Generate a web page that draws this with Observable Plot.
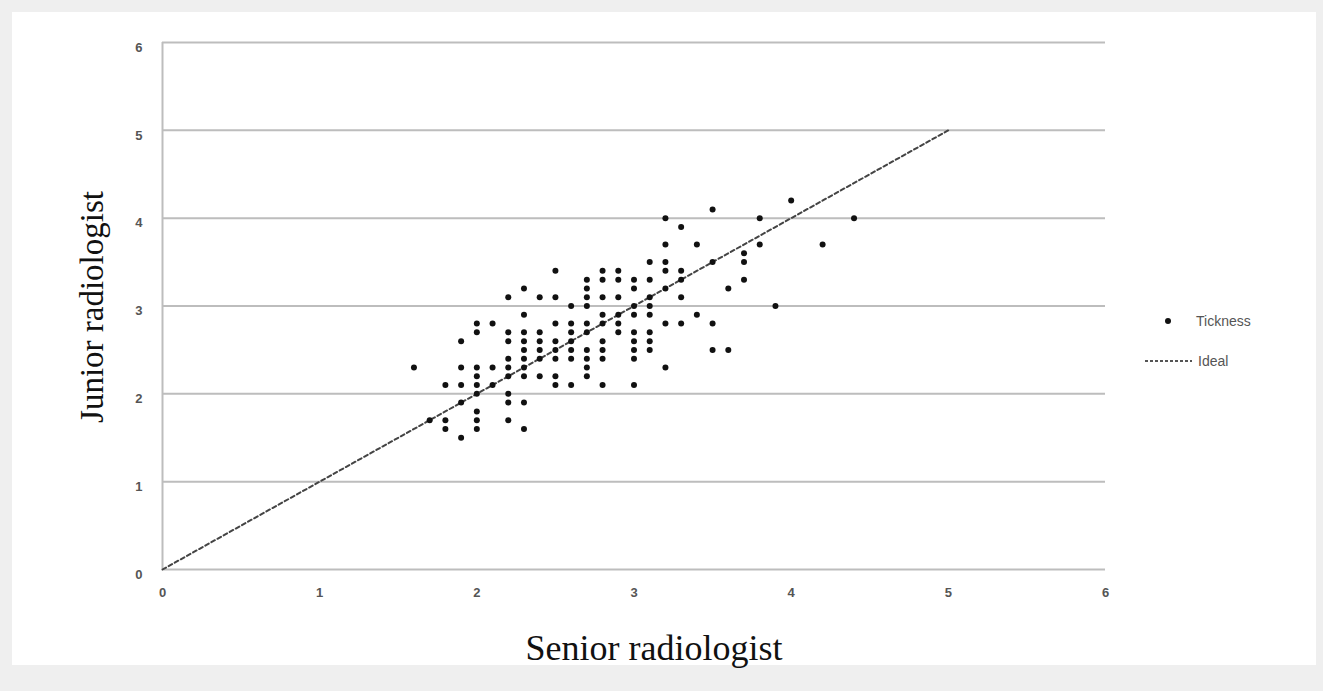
<!DOCTYPE html>
<html>
<head>
<meta charset="utf-8">
<script src="https://cdn.jsdelivr.net/npm/d3@7"></script>
<script src="https://cdn.jsdelivr.net/npm/@observablehq/plot@0.6"></script>
<style>
  html, body { margin: 0; padding: 0; background: #efefef; width: 1323px; height: 691px; overflow: hidden; }
  #panel { position: absolute; left: 12px; top: 12px; width: 1304px; height: 653px; background: #fff; }
  #chart { position: absolute; left: 0; top: 0; }
  .ytitle { position: absolute; left: 80px; top: 295px; transform: translate(-50%, -50%) rotate(-90deg);
    font-family: "Liberation Serif", "DejaVu Serif", serif; font-size: 33px; color: #111; white-space: nowrap; }
  .xtitle { position: absolute; left: 642px; top: 636px; transform: translate(-50%, -50%);
    font-family: "Liberation Serif", "DejaVu Serif", serif; font-size: 36px; color: #111; white-space: nowrap; }
  .legend { position: absolute; font-family: "Liberation Sans", Arial, sans-serif; color: #555; }
</style>
</head>
<body>
<div id="panel">
  <div id="chart"></div>
  <div class="ytitle">Junior radiologist</div>
  <div class="xtitle">Senior radiologist</div>
  <svg class="legend" style="left:1128px; top:296px;" width="150" height="80">
    <circle cx="28" cy="13" r="3" fill="#111"></circle>
    <text x="56" y="18" fill="#555" font-size="14">Tickness</text>
    <line x1="5" y1="53" x2="52" y2="53" stroke="#555" stroke-width="2" stroke-dasharray="3,2"></line>
    <text x="58" y="58" fill="#555" font-size="14">Ideal</text>
  </svg>
</div>
<script>
// Senior radiologist scores (x columns) and the junior scores read at each column
const seniorColumns = [1.6, 1.7, 1.8, 1.9, 2.0, 2.1, 2.2, 2.3, 2.4, 2.5, 2.6, 2.7, 2.8, 2.9, 3.0, 3.1, 3.2, 3.3, 3.4, 3.5, 3.6, 3.7, 3.8, 3.9, 4.0, 4.2, 4.4];
const juniorByColumn = [
  [2.3],
  [1.7],
  [2.1, 1.7, 1.6],
  [2.6, 2.3, 2.1, 1.9, 1.5],
  [2.8, 2.7, 2.3, 2.2, 2.1, 2.0, 1.8, 1.7, 1.6],
  [2.8, 2.3, 2.1],
  [3.1, 2.7, 2.6, 2.4, 2.3, 2.2, 2.0, 1.9, 1.7],
  [3.2, 2.9, 2.7, 2.6, 2.5, 2.4, 2.3, 2.2, 1.9, 1.6],
  [3.1, 2.7, 2.6, 2.5, 2.4, 2.2],
  [3.4, 3.1, 2.8, 2.6, 2.5, 2.4, 2.2, 2.1],
  [3.0, 2.8, 2.7, 2.6, 2.5, 2.4, 2.1],
  [3.3, 3.2, 3.1, 3.0, 2.8, 2.7, 2.5, 2.4, 2.3, 2.2],
  [3.4, 3.3, 3.1, 2.9, 2.8, 2.6, 2.5, 2.4, 2.1],
  [3.4, 3.3, 3.1, 2.9, 2.8, 2.7],
  [3.3, 3.2, 3.0, 2.9, 2.7, 2.6, 2.5, 2.4, 2.1],
  [3.5, 3.3, 3.1, 3.0, 2.9, 2.7, 2.6, 2.5],
  [4.0, 3.7, 3.5, 3.4, 3.2, 2.8, 2.3],
  [3.9, 3.4, 3.3, 3.1, 2.8],
  [3.7, 2.9],
  [4.1, 3.5, 2.8, 2.5],
  [3.2, 2.5],
  [3.6, 3.5, 3.3],
  [4.0, 3.7],
  [3.0],
  [4.2],
  [3.7],
  [4.0]
];
const idealX = [0, 5];
const idealY = [0, 5];
const gridY = [1, 2, 3, 4, 5, 6];
const tickValues = [0, 1, 2, 3, 4, 5, 6];

const points = [];
seniorColumns.forEach((sx, i) => juniorByColumn[i].forEach(jy => points.push({senior: sx, junior: jy})));
const ideal = idealX.map((x, i) => ({x, y: idealY[i]}));

const chart = Plot.plot({
  width: 1304,
  height: 653,
  marginLeft: 150,
  marginRight: 211,
  marginTop: 30,
  marginBottom: 96,
  style: {background: "transparent", fontFamily: "Liberation Sans, Arial, sans-serif", fontSize: "13px"},
  x: {domain: [0, 6], ticks: tickValues, label: null},
  y: {domain: [0, 6], ticks: tickValues, label: null},
  marks: [
    Plot.ruleY(gridY, {stroke: "#bdbdbd", strokeWidth: 2}),
    Plot.ruleY([0], {stroke: "#bdbdbd", strokeWidth: 2}),
    Plot.ruleX([0], {y1: 0, y2: 6, stroke: "#bdbdbd", strokeWidth: 2}),
    Plot.axisX({ticks: tickValues, tickFormat: "d", tickSize: 0, tickPadding: 18, fill: "#555", fontWeight: "bold", label: null}),
    Plot.axisY({ticks: tickValues, tickFormat: "d", tickSize: 0, tickPadding: 20, dy: 5, fill: "#555", fontWeight: "bold", label: null}),
    Plot.line(ideal, {x: "x", y: "y", stroke: "#444", strokeWidth: 2, strokeDasharray: "4,3"}),
    Plot.dot(points, {x: "senior", y: "junior", r: 3, fill: "#111", stroke: "none"})
  ]
});
document.getElementById("chart").appendChild(chart);
</script>
</body>
</html>
